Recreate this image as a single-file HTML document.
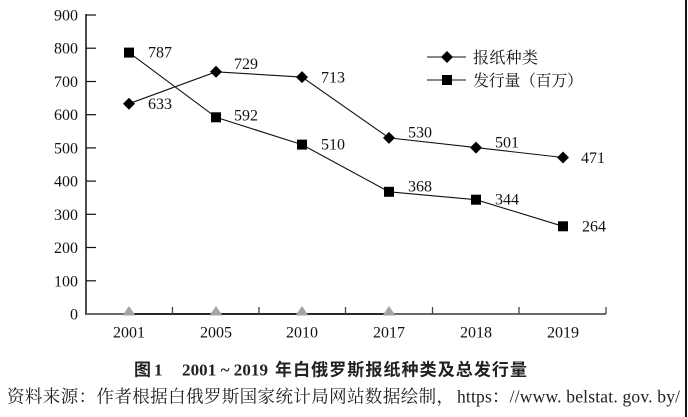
<!DOCTYPE html>
<html>
<head>
<meta charset="utf-8">
<style>
html,body{margin:0;padding:0;background:#fff;}
svg{display:block;}
.num{font-family:"Liberation Serif","Noto Serif CJK SC",serif;font-size:16px;fill:#111;}
.cjk{font-family:"Noto Serif CJK SC","Liberation Serif",serif;font-size:16px;fill:#111;}
</style>
</head>
<body>
<svg width="688" height="417" viewBox="0 0 688 417" xmlns="http://www.w3.org/2000/svg">
<rect width="688" height="417" fill="#fff"/>
<rect x="685" y="0" width="2" height="417" fill="#111"/>
<!-- y axis -->
<line x1="86" y1="14" x2="86" y2="315" stroke="#111" stroke-width="1.5"/>
<g stroke="#111" stroke-width="1.2">
<line x1="86" y1="15" x2="96" y2="15"/>
<line x1="86" y1="48.2" x2="96" y2="48.2"/>
<line x1="86" y1="81.5" x2="96" y2="81.5"/>
<line x1="86" y1="114.7" x2="96" y2="114.7"/>
<line x1="86" y1="147.9" x2="96" y2="147.9"/>
<line x1="86" y1="181.1" x2="96" y2="181.1"/>
<line x1="86" y1="214.3" x2="96" y2="214.3"/>
<line x1="86" y1="247.5" x2="96" y2="247.5"/>
<line x1="86" y1="280.8" x2="96" y2="280.8"/>
</g>
<g class="num" text-anchor="end">
<text x="78" y="20.5">900</text>
<text x="78" y="53.7">800</text>
<text x="78" y="87">700</text>
<text x="78" y="120.2">600</text>
<text x="78" y="153.4">500</text>
<text x="78" y="186.6">400</text>
<text x="78" y="219.8">300</text>
<text x="78" y="253">200</text>
<text x="78" y="286.3">100</text>
<text x="78" y="319.5">0</text>
</g>
<!-- x axis -->
<line x1="86" y1="314" x2="606" y2="314" stroke="#6a6a6a" stroke-width="2"/>
<line x1="129" y1="314" x2="389" y2="314" stroke="#111" stroke-width="1.6"/>
<g stroke="#444" stroke-width="1.3">
<line x1="172.5" y1="307" x2="172.5" y2="314"/>
<line x1="259" y1="307" x2="259" y2="314"/>
<line x1="345.5" y1="307" x2="345.5" y2="314"/>
<line x1="432.5" y1="307" x2="432.5" y2="314"/>
<line x1="519" y1="307" x2="519" y2="314"/>
<line x1="606" y1="307" x2="606" y2="314"/>
</g>
<g fill="#a4a4a4">
<polygon points="129,306 135.5,315.5 122.5,315.5"/>
<polygon points="216,306 222.5,315.5 209.5,315.5"/>
<polygon points="302,306 308.5,315.5 295.5,315.5"/>
<polygon points="389,306 395.5,315.5 382.5,315.5"/>
</g>
<g class="num" text-anchor="middle">
<text x="129" y="337.5">2001</text>
<text x="216" y="337.5">2005</text>
<text x="302" y="337.5">2010</text>
<text x="389" y="337.5">2017</text>
<text x="476" y="337.5">2018</text>
<text x="563" y="337.5">2019</text>
</g>
<!-- series 1 -->
<polyline points="129,103.7 216,71.8 302,77.1 389,137.9 476,147.6 563,157.5" fill="none" stroke="#111" stroke-width="1.1"/>
<g fill="#000">
<polygon points="129,97.7 135,103.7 129,109.7 123,103.7"/>
<polygon points="216,65.8 222,71.8 216,77.8 210,71.8"/>
<polygon points="302,71.1 308,77.1 302,83.1 296,77.1"/>
<polygon points="389,131.9 395,137.9 389,143.9 383,137.9"/>
<polygon points="476,141.6 482,147.6 476,153.6 470,147.6"/>
<polygon points="563,151.5 569,157.5 563,163.5 557,157.5"/>
</g>
<!-- series 2 -->
<polyline points="129,52.6 216,117.3 302,144.6 389,191.8 476,199.7 563,226.3" fill="none" stroke="#111" stroke-width="1.1"/>
<g fill="#000">
<rect x="124" y="47.6" width="10" height="10"/>
<rect x="211" y="112.3" width="10" height="10"/>
<rect x="297" y="139.6" width="10" height="10"/>
<rect x="384" y="186.8" width="10" height="10"/>
<rect x="471" y="194.7" width="10" height="10"/>
<rect x="558" y="221.3" width="10" height="10"/>
</g>
<!-- data labels -->
<g class="num">
<text x="148" y="109">633</text>
<text x="234" y="69">729</text>
<text x="321" y="82.5">713</text>
<text x="408" y="137.5">530</text>
<text x="495" y="147.5">501</text>
<text x="581" y="163">471</text>
<text x="148" y="57.5">787</text>
<text x="234" y="120.5">592</text>
<text x="321" y="149.5">510</text>
<text x="408" y="191.5">368</text>
<text x="495" y="204.5">344</text>
<text x="582" y="231.5">264</text>
</g>
<!-- legend -->
<line x1="427" y1="57" x2="466" y2="57" stroke="#111" stroke-width="1.1"/>
<polygon points="447,51 453,57 447,63 441,57" fill="#000"/>
<text class="cjk" x="473" y="63" textLength="65">报纸种类</text>
<line x1="427" y1="80" x2="466" y2="80" stroke="#111" stroke-width="1.1"/>
<rect x="442" y="75" width="10" height="10" fill="#000"/>
<text class="cjk" x="473" y="86" textLength="110">发行量（百万）</text>
<!-- caption -->
<text x="134" y="375.5" style="font-family:'Noto Sans CJK SC',sans-serif;font-weight:bold;font-size:17px;fill:#222">图</text>
<text x="154" y="375.5" style="font-family:'Liberation Serif',serif;font-weight:bold;font-size:17px;fill:#222">1</text>
<text x="182" y="375.5" textLength="86" style="font-family:'Liberation Serif',serif;font-weight:bold;font-size:17px;fill:#222">2001 ~ 2019</text>
<text x="275" y="375.5" textLength="252" style="font-family:'Noto Sans CJK SC',sans-serif;font-weight:bold;font-size:17px;fill:#222">年白俄罗斯报纸种类及总发行量</text>
<!-- source -->
<text x="7" y="402.5" textLength="447" style="font-family:'Noto Serif CJK SC','Liberation Serif',serif;font-size:17.5px;fill:#222">资料来源：作者根据白俄罗斯国家统计局网站数据绘制，</text>
<text x="457" y="402.5" textLength="223" style="font-family:'Liberation Serif','Noto Serif CJK SC',serif;font-size:17.5px;fill:#222">https：//www. belstat. gov. by/</text>
</svg>
</body>
</html>
